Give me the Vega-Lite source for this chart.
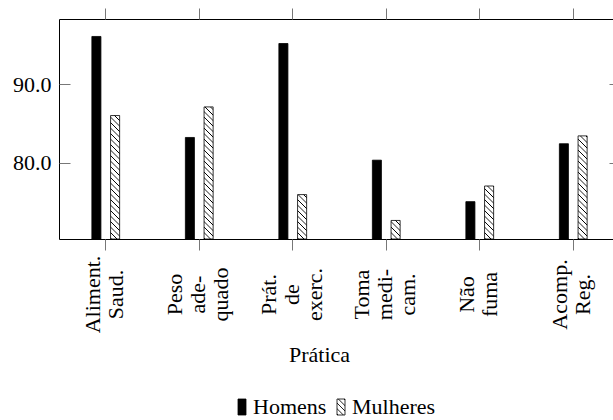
{
  "$schema": "https://vega.github.io/schema/vega-lite/v6.json",
  "width": 561,
  "height": 220,
  "autosize": {"type": "none"},
  "padding": {"left": 59, "top": 19, "right": 0, "bottom": 181},
  "background": "white",
  "params": [
    {"name": "hatch", "value": [
      {"offset": 0, "color": "#fff"}, {"offset": 0.0059, "color": "#000"}, {"offset": 0.0119, "color": "#fff"},
      {"offset": 0.0370, "color": "#fff"}, {"offset": 0.0430, "color": "#000"}, {"offset": 0.0489, "color": "#fff"},
      {"offset": 0.0741, "color": "#fff"}, {"offset": 0.0800, "color": "#000"}, {"offset": 0.0859, "color": "#fff"},
      {"offset": 0.1111, "color": "#fff"}, {"offset": 0.1170, "color": "#000"}, {"offset": 0.1230, "color": "#fff"},
      {"offset": 0.1481, "color": "#fff"}, {"offset": 0.1541, "color": "#000"}, {"offset": 0.1600, "color": "#fff"},
      {"offset": 0.1852, "color": "#fff"}, {"offset": 0.1911, "color": "#000"}, {"offset": 0.1970, "color": "#fff"},
      {"offset": 0.2222, "color": "#fff"}, {"offset": 0.2281, "color": "#000"}, {"offset": 0.2341, "color": "#fff"},
      {"offset": 0.2593, "color": "#fff"}, {"offset": 0.2652, "color": "#000"}, {"offset": 0.2711, "color": "#fff"},
      {"offset": 0.2963, "color": "#fff"}, {"offset": 0.3022, "color": "#000"}, {"offset": 0.3081, "color": "#fff"},
      {"offset": 0.3333, "color": "#fff"}, {"offset": 0.3393, "color": "#000"}, {"offset": 0.3452, "color": "#fff"},
      {"offset": 0.3704, "color": "#fff"}, {"offset": 0.3763, "color": "#000"}, {"offset": 0.3822, "color": "#fff"},
      {"offset": 0.4074, "color": "#fff"}, {"offset": 0.4133, "color": "#000"}, {"offset": 0.4193, "color": "#fff"},
      {"offset": 0.4444, "color": "#fff"}, {"offset": 0.4504, "color": "#000"}, {"offset": 0.4563, "color": "#fff"},
      {"offset": 0.4815, "color": "#fff"}, {"offset": 0.4874, "color": "#000"}, {"offset": 0.4933, "color": "#fff"},
      {"offset": 0.5185, "color": "#fff"}, {"offset": 0.5244, "color": "#000"}, {"offset": 0.5304, "color": "#fff"},
      {"offset": 0.5556, "color": "#fff"}, {"offset": 0.5615, "color": "#000"}, {"offset": 0.5674, "color": "#fff"},
      {"offset": 0.5926, "color": "#fff"}, {"offset": 0.5985, "color": "#000"}, {"offset": 0.6044, "color": "#fff"},
      {"offset": 0.6296, "color": "#fff"}, {"offset": 0.6356, "color": "#000"}, {"offset": 0.6415, "color": "#fff"},
      {"offset": 0.6667, "color": "#fff"}, {"offset": 0.6726, "color": "#000"}, {"offset": 0.6785, "color": "#fff"},
      {"offset": 0.7037, "color": "#fff"}, {"offset": 0.7096, "color": "#000"}, {"offset": 0.7156, "color": "#fff"},
      {"offset": 0.7407, "color": "#fff"}, {"offset": 0.7467, "color": "#000"}, {"offset": 0.7526, "color": "#fff"},
      {"offset": 0.7778, "color": "#fff"}, {"offset": 0.7837, "color": "#000"}, {"offset": 0.7896, "color": "#fff"},
      {"offset": 0.8148, "color": "#fff"}, {"offset": 0.8207, "color": "#000"}, {"offset": 0.8267, "color": "#fff"},
      {"offset": 0.8519, "color": "#fff"}, {"offset": 0.8578, "color": "#000"}, {"offset": 0.8637, "color": "#fff"},
      {"offset": 0.8889, "color": "#fff"}, {"offset": 0.8948, "color": "#000"}, {"offset": 0.9007, "color": "#fff"},
      {"offset": 0.9259, "color": "#fff"}, {"offset": 0.9319, "color": "#000"}, {"offset": 0.9378, "color": "#fff"},
      {"offset": 0.9630, "color": "#fff"}, {"offset": 0.9689, "color": "#000"}, {"offset": 0.9748, "color": "#fff"},
      {"offset": 1, "color": "#fff"}
    ]}
  ],
  "config": {
    "view": {"stroke": "#000", "strokeWidth": 1},
    "font": "Liberation Serif",
    "axis": {"grid": false, "domain": false, "tickColor": "#777", "tickWidth": 1, "labelColor": "#000", "titleColor": "#000", "titleFontWeight": "normal", "labelFont": "Liberation Serif", "titleFont": "Liberation Serif"},
    "legend": {"labelFont": "Liberation Serif"}
  },
  "data": {
    "values": [
      {"pratica": "Aliment. Saud.", "sexo": "Homens", "valor": 96.1},
      {"pratica": "Aliment. Saud.", "sexo": "Mulheres", "valor": 86.0},
      {"pratica": "Peso adequado", "sexo": "Homens", "valor": 83.2},
      {"pratica": "Peso adequado", "sexo": "Mulheres", "valor": 87.1},
      {"pratica": "Prát. de exerc.", "sexo": "Homens", "valor": 95.2},
      {"pratica": "Prát. de exerc.", "sexo": "Mulheres", "valor": 75.9},
      {"pratica": "Toma medicam.", "sexo": "Homens", "valor": 80.3},
      {"pratica": "Toma medicam.", "sexo": "Mulheres", "valor": 72.6},
      {"pratica": "Não fuma", "sexo": "Homens", "valor": 75.0},
      {"pratica": "Não fuma", "sexo": "Mulheres", "valor": 77.0},
      {"pratica": "Acomp. Reg.", "sexo": "Homens", "valor": 82.4},
      {"pratica": "Acomp. Reg.", "sexo": "Mulheres", "valor": 83.4}
    ]
  },
  "layer": [
    {
      "mark": {
        "type": "bar", "stroke": "#000", "strokeWidth": 0.8,
        "fill": {"expr": "datum.sexo === 'Homens' ? '#000' : {gradient: 'linear', x1: 0, y1: 1, x2: 148.5*9/(pow(scale('y',70.23)-scale('y',datum.valor),2)+81), y2: 1-148.5*(scale('y',70.23)-scale('y',datum.valor))/(pow(scale('y',70.23)-scale('y',datum.valor),2)+81), stops: hatch}"}
      },
      "encoding": {
        "x": {
          "field": "pratica", "type": "nominal", "sort": null,
          "scale": {"paddingInner": 0.703, "paddingOuter": 0.3515},
          "axis": {
            "orient": "bottom", "title": "Prática", "titleFontSize": 22, "titlePadding": 12, "titleX": 260,
            "tickSize": 11, "labelAngle": -90, "labelAlign": "center", "labelBaseline": "middle",
            "labelFontSize": 22, "labelLineHeight": 23, "labelPadding": 44,
            "labelOffset": {"condition": {"test": "datum.value == 'Peso adequado' || datum.value == 'Prát. de exerc.' || datum.value == 'Toma medicam.'", "value": -24}, "value": -13},
            "labelExpr": "datum.value == 'Peso adequado' ? ['Peso','ade-','quado'] : datum.value == 'Prát. de exerc.' ? ['Prát.','de','exerc.'] : datum.value == 'Toma medicam.' ? ['Toma','medi-','cam.'] : split(datum.value, ' ')"
          }
        },
        "xOffset": {"field": "sexo", "type": "nominal", "scale": {"paddingInner": 0.516, "paddingOuter": 0}},
        "y": {
          "field": "valor", "type": "quantitative",
          "scale": {"domain": [70.23, 98.33], "nice": false, "zero": false},
          "axis": {"orient": "left", "title": null, "values": [80, 90], "format": ".1f", "tickSize": -11, "labelFontSize": 22, "labelPadding": 19}
        },
        "y2": {"datum": 70.23}
      }
    },
    {
      "mark": {"type": "bar", "opacity": 0},
      "encoding": {
        "x": {"field": "pratica", "type": "nominal", "sort": null, "scale": {"paddingInner": 0.703, "paddingOuter": 0.3515}, "axis": {"orient": "top", "labels": false, "title": null, "tickSize": 11}},
        "xOffset": {"field": "sexo", "type": "nominal", "scale": {"paddingInner": 0.516, "paddingOuter": 0}},
        "y": {"field": "valor", "type": "quantitative", "scale": {"domain": [70.23, 98.33], "nice": false, "zero": false}, "axis": {"orient": "right", "labels": false, "title": null, "values": [80, 90], "tickSize": -11}},
        "y2": {"datum": 70.23},
        "fill": {
          "field": "sexo", "type": "nominal",
          "scale": {"domain": ["Homens", "Mulheres"], "range": ["#000", {"expr": "{gradient: 'linear', x1: 0, y1: 1, x2: 3.71, y2: -6.425, stops: hatch}"}]},
          "legend": {
            "orient": "none", "legendX": 172, "legendY": 377, "direction": "horizontal", "title": null,
            "symbolType": "M-0.5,-1H0.5V1H-0.5Z", "symbolSize": 256, "symbolStrokeColor": "#000", "symbolStrokeWidth": 0.8, "symbolOpacity": 1,
            "labelFontSize": 22, "labelOffset": 0, "columnPadding": 3, "labelColor": "#000"
          }
        }
      }
    }
  ],
  "resolve": {"axis": {"x": "independent", "y": "independent"}}
}
